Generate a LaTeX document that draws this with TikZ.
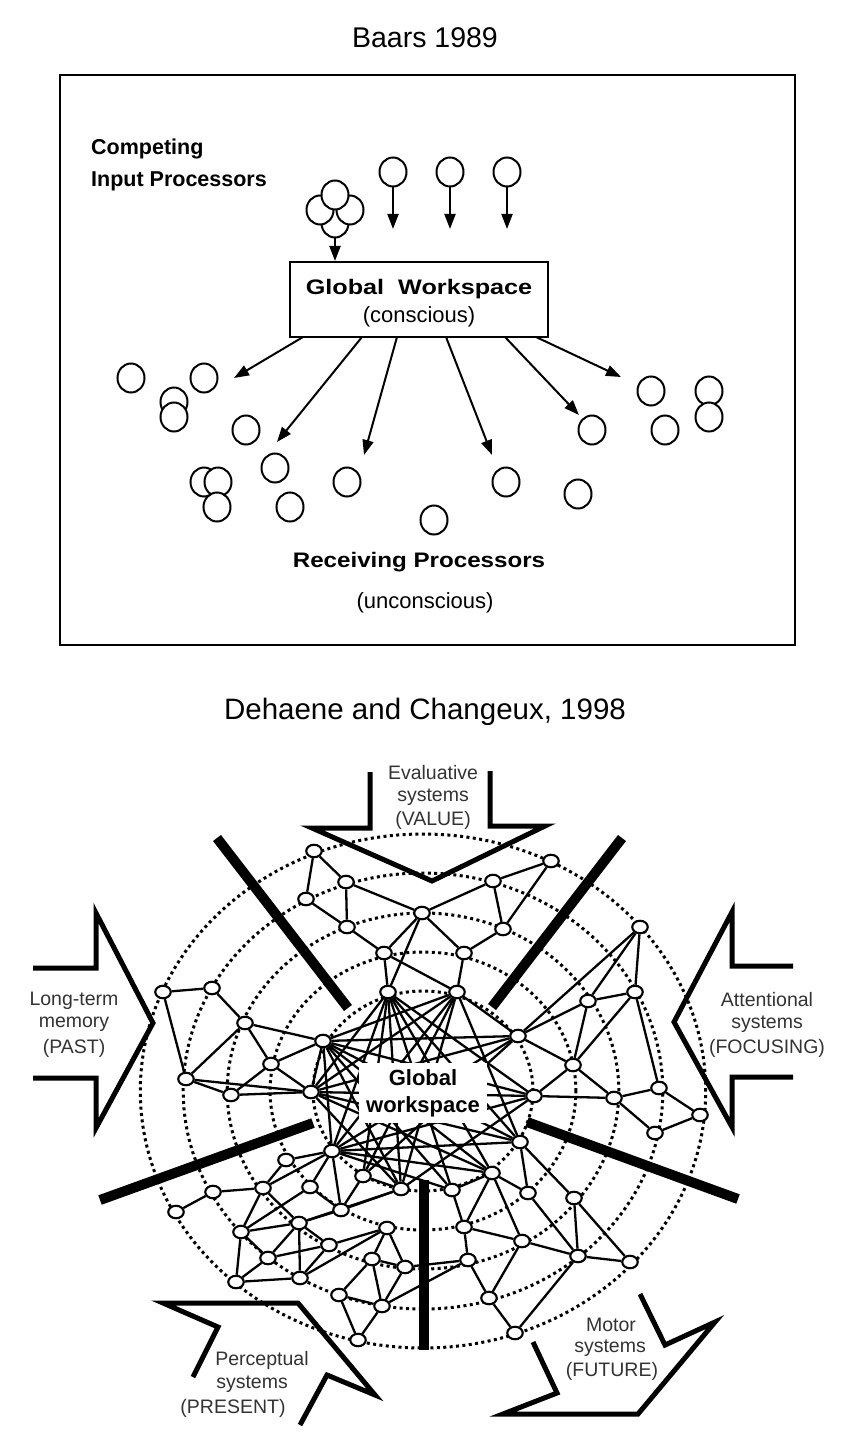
\documentclass[tikz,border=0pt]{standalone}
\usepackage{fontspec}
\setmainfont{Liberation Sans}
\usepackage{graphicx}
\usetikzlibrary{arrows.meta,shapes.geometric}
\pgfdeclarelayer{bg}
\pgfsetlayers{bg,main}
\definecolor{labgray}{HTML}{333333}
\begin{document}
\begin{tikzpicture}[x=1pt,y=-1pt,
  bp/.style={draw, fill=white, ellipse, line width=2pt, minimum width=27pt, minimum height=29pt, inner sep=0pt},
  barr/.style={line width=2pt, -{Triangle[length=15pt,width=11pt]}},
  dn/.style={draw, fill=white, ellipse, line width=2.1pt, minimum width=15.5pt, minimum height=12.5pt, inner sep=0pt},
  ed/.style={line width=2.3pt},
  ring/.style={line width=3pt, dash pattern=on 3pt off 3.4pt},
  thickbar/.style={line width=10pt},
  bigarrow/.style={line width=5pt, miter limit=10},
  lab/.style={text=labgray, font=\fontsize{19.5}{22}\selectfont, inner sep=0pt},
  ttl/.style={font=\fontsize{28.5}{32}\selectfont, inner sep=0pt},
]
\begin{pgfonlayer}{bg}
\fill[white] (0,0) rectangle (845,1447);
\end{pgfonlayer}
\useasboundingbox (0,0) rectangle (845,1447);

% ================= Baars 1989 =================
\node[ttl] (t1) at (425,38) {Baars 1989};
\draw[line width=2pt] (60,75) rectangle (795,645);

\node[anchor=west, inner sep=0pt, font=\bfseries\fontsize{21.5}{24}\selectfont] (comp) at (91,149) {Competing};
\node[anchor=west, inner sep=0pt, font=\bfseries\fontsize{21.5}{24}\selectfont] (inp) at (91,181) {Input Processors};

% cluster
\node[bp] (cb) at (335,223) {};
\node[bp] (cl) at (320,210) {};
\node[bp] (cr) at (350,210) {};
\node[bp] (ct) at (335,195) {};
% single inputs
\node[bp] (i1) at (393,172) {};
\node[bp] (i2) at (450,172) {};
\node[bp] (i3) at (507,172) {};
\coordinate (i1e) at (393,229);
\coordinate (i2e) at (450,229);
\coordinate (i3e) at (507,229);

\node[draw, line width=2pt, minimum width=258pt, minimum height=75pt, inner sep=0pt] (gw) at (419,299.5) {};
\node[inner sep=0pt, font=\bfseries\fontsize{21}{24}\selectfont] (gwt) at (419,289) {\scalebox{1.2}[1]{Global\ \ Workspace}};
\node[inner sep=0pt, font=\fontsize{22}{24}\selectfont] (gwc) at (419,317) {(conscious)};

\draw[barr] (cb.south) -- (gw.north -| cb.south);
\draw[barr] (i1) -- (i1e);
\draw[barr] (i2) -- (i2e);
\draw[barr] (i3) -- (i3e);

\coordinate (s1) at (303,337); \coordinate (e1) at (234,378);
\coordinate (s2) at (362,337); \coordinate (e2) at (277,442);
\coordinate (s3) at (397,337); \coordinate (e3) at (364,455);
\coordinate (s4) at (446,337); \coordinate (e4) at (492,455);
\coordinate (s5) at (505,337); \coordinate (e5) at (579,415);
\coordinate (s6) at (536,337); \coordinate (e6) at (621,377);
\foreach \i in {1,...,6} \draw[barr] (s\i) -- (e\i);

\foreach \n/\x/\y in {r1/131/378, r2/204/378, r3/174/402, r4/174/417, r5/246/430,
  r6/275/468, r7/204/482, r8/218/482, r9/217/507, r10/290/507, r11/347/482,
  r12/434/520, r13/506/482, r14/578/494, r15/592/430, r16/651/391, r17/665/430,
  r18/709/391, r19/709/417}
  \node[bp] (\n) at (\x,\y) {};

\node[inner sep=0pt, font=\bfseries\fontsize{21}{24}\selectfont] (recv) at (419,562) {\scalebox{1.15}[1]{Receiving Processors}};
\node[inner sep=0pt, font=\fontsize{22}{24}\selectfont] (unc) at (425,603) {(unconscious)};

% ================= Dehaene and Changeux =================
\node[ttl, font=\fontsize{29.5}{32}\selectfont] (t2) at (425,712) {Dehaene and Changeux, 1998};

\foreach \n/\x/\y in {
  n1/314/851, n2/346/882, n3/306/899, n4/347/927, n5/422/913, n6/384/953, hA/388/992,
  n7/551/861, n8/493/881, n9/503/929, n10/464/953, hB/457/992,
  n11/640/927, n12/588/1001, n13/635/992, hC/518/1036, n14/573/1065, hD/534/1096,
  n15/614/1098, n16/659/1088, n17/700/1115, n18/655/1133,
  n19/163/992, n20/212/988, n21/245/1023, hL/323/1041, n22/271/1064, n23/186/1079,
  n24/231/1095, hK/311/1092,
  hJ/332/1151, n25/286/1160, hI/363/1176, n26/310/1187, n27/263/1188, n28/213/1192,
  n29/176/1212, n30/341/1210, n31/299/1223, n32/387/1228, n33/241/1232, n34/329/1245,
  n35/268/1258, n36/372/1259, n37/405/1267, n38/300/1278, n39/236/1282, n40/339/1295,
  n41/382/1306, n42/358/1340, hH/401/1189,
  hE/520/1142, hF/492/1173, hG/452/1190, n43/528/1193, n44/574/1198, n45/464/1227,
  n46/522/1241, n47/578/1256, n48/630/1262, n49/468/1260, n50/489/1298, n51/515/1333}
  \node[dn] (\n) at (\x,\y) {};

\begin{pgfonlayer}{bg}
  \foreach \ry in {100,139,178,218,257}
    \draw[ring] (423,1091) ellipse [x radius=1.1*\ry pt, y radius=\ry pt];
  \foreach \a/\b in {
    n1/n3, n1/n2, n2/n4, n3/n4, n2/n5, n4/n6, n5/n6, n6/hA, n6/hB, n5/n8, n5/n10, hA/n5,
    n7/n8, n7/n9, n8/n9, n9/n10, n10/hB,
    n11/hC, n11/n12, n11/n13, n12/n13, n12/hC, n12/n14, n13/n14, n13/n16, hC/n14, n14/hD,
    n14/n15, hD/n15, n15/n16, n15/n18, n16/n17, n18/n17,
    n19/n20, n19/n23, n20/n21, n21/hL, n21/n22, n21/n23, n22/hL, n22/hK, n22/n24, n23/n24,
    n23/hK, n24/hK,
    hJ/n25, hJ/n27, hJ/n26, hJ/n30, n25/n27, n27/n28, n28/n29, n27/n33, n27/n31, n26/n33,
    hI/hH, hH/n31, hH/n30, n33/n31, n31/n30, n31/n34, n31/n35, n33/n35, n34/n32, n32/n36,
    n36/n37, n32/n37, n33/n39, n35/n39, n35/n34, n39/n38, n38/n31, n38/n34, n38/n32,
    n36/n40, n36/n41, n37/n41, n40/n41, n41/n42, n40/n42, n41/n49, n37/n49, n26/n30, hI/n30,
    hF/hG, hF/n45, hF/n43, hF/n46, hG/n45, n45/n46, n45/n49, n46/n47, n47/n48, n43/n47,
    n44/n48, n44/n47, hE/n43, hE/n44, n49/n50, n50/n46, n50/n51, n51/n47,
    hA/hH, hA/hG, hA/hI, hA/hJ, hA/hE, hA/hF, hA/hD, hA/hK,
    hB/hL, hB/hK, hB/hJ, hB/hI, hB/hH, hB/hC, hB/hE,
    hC/hL, hC/hK, hC/hJ, hC/hI, hD/hL, hD/hK, hD/hJ, hD/hH,
    hE/hK, hE/hL, hE/hJ, hF/hL, hF/hK, hF/hJ, hG/hL, hG/hJ, hH/hL, hH/hK, hL/hK, hL/hJ}
    \draw[ed] (\a) -- (\b);
\end{pgfonlayer}

\node[fill=white, inner xsep=7pt, inner ysep=6pt, align=center, font=\bfseries\fontsize{22}{27}\selectfont] (gwl) at (423,1093) {Global\\workspace};

% thick separators
\draw[thickbar] (217,838) -- (348,1008);
\draw[thickbar] (622,838) -- (492,1007);
\draw[thickbar] (100,1200) -- (313,1123);
\draw[thickbar] (527,1122) -- (738,1199);
\draw[thickbar] (424,1180) -- (424,1350);

% big open arrows
\draw[bigarrow] (370,772) -- (370,828) -- (312,828) -- (432,881) -- (545,826) -- (490,826) -- (490,771);
\draw[bigarrow] (33,968) -- (96,968) -- (96,913) -- (153,1023) -- (96,1128) -- (96,1078) -- (33,1078);
\draw[bigarrow] (793,966) -- (732,966) -- (732,912) -- (674,1022) -- (732,1127) -- (732,1077) -- (793,1077);
\draw[bigarrow] (193,1377) -- (218,1327) -- (163,1303) -- (298,1303) -- (375,1395) -- (327,1375) -- (300,1425);
\draw[bigarrow] (533,1342) -- (557,1393) -- (503,1414) -- (638,1414) -- (715,1322) -- (665,1345) -- (640,1294);

% labels
\node[lab] (ev1) at (433,773) {Evaluative};
\node[lab] (ev2) at (433,797) {systems};
\node[lab] (ev3) at (433,820) {(VALUE)};
\node[lab] (lt1) at (74,1001) {Long-term};
\node[lab] (lt2) at (74,1024) {memory};
\node[lab] (lt3) at (74,1048) {(PAST)};
\node[lab] (at1) at (767,1000) {Attentional};
\node[lab] (at2) at (767,1024) {systems};
\node[lab] (at3) at (767,1048) {(FOCUSING)};
\node[lab] (pe1) at (262,1360) {Perceptual};
\node[lab] (pe2) at (252,1384) {systems};
\node[lab] (pe3) at (233,1408) {(PRESENT)};
\node[lab] (mo1) at (611,1325) {Motor};
\node[lab] (mo2) at (610,1348) {systems};
\node[lab] (mo3) at (612,1371) {(FUTURE)};
\end{tikzpicture}
\end{document}
